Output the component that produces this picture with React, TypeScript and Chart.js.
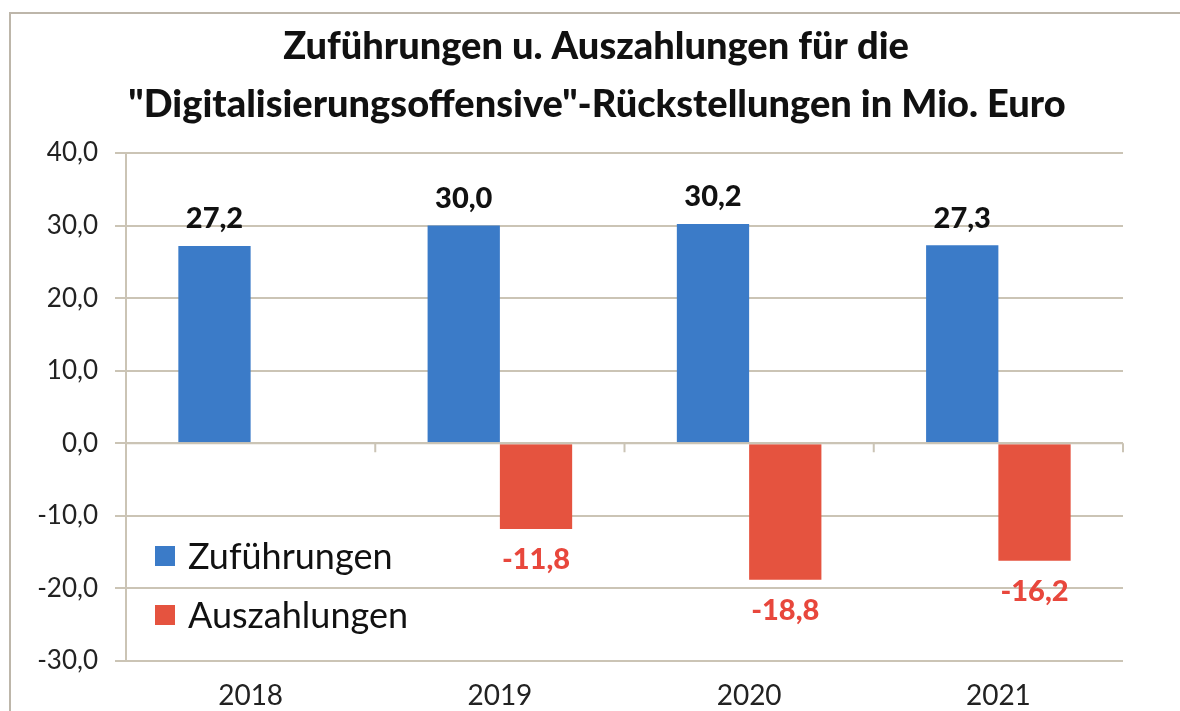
import React, { useEffect, useRef } from "react";
import { Chart, registerables } from "chart.js";

Chart.register(...registerables);

const categories = ["2018", "2019", "2020", "2021"];
const zufuehrungen = [27.2, 30.0, 30.2, 27.3];
const auszahlungen = [null, -11.8, -18.8, -16.2];
const seriesNames = ["Zuführungen", "Auszahlungen"];
const titleLines = [
  "Zuführungen u. Auszahlungen für die",
  "\"Digitalisierungsoffensive\"-Rückstellungen in Mio. Euro",
];

const BLUE = "#3b7bc8";
const RED = "#e5533f";
const GRID = "#cbc4b5";
const FONT = "Lato, 'Open Sans', sans-serif";

const fmt = (v: number) => v.toFixed(1).replace(".", ",");

const decorPlugin = {
  id: "decor",
  beforeDraw(chart: any) {
    const ctx = chart.ctx;
    ctx.save();
    ctx.fillStyle = "#ffffff";
    ctx.fillRect(0, 0, chart.width, chart.height);
    ctx.strokeStyle = "#bdb6aa";
    ctx.lineWidth = 2;
    ctx.strokeRect(10, 13, chart.width + 50, chart.height + 50);
    ctx.restore();
  },
  afterDatasetsDraw(chart: any) {
    const ctx = chart.ctx;
    const area = chart.chartArea;
    const y = chart.scales.y;
    ctx.save();
    // title
    ctx.fillStyle = "#111111";
    ctx.font = `900 38px ${FONT}`;
    ctx.textAlign = "center";
    ctx.textBaseline = "middle";
    ctx.fillText(titleLines[0], 596, 47);
    ctx.fillText(titleLines[1], 597, 105);

    // x axis line at zero with tick marks at category boundaries
    const y0 = y.getPixelForValue(0);
    ctx.strokeStyle = GRID;
    ctx.lineWidth = 2;
    ctx.beginPath();
    ctx.moveTo(area.left, y0);
    ctx.lineTo(area.right, y0);
    const n = categories.length;
    const w = (area.right - area.left) / n;
    for (let i = 1; i <= n; i++) {
      const px = area.left + w * i;
      ctx.moveTo(px, y0);
      ctx.lineTo(px, y0 + 9);
    }
    ctx.stroke();

    // data labels
    ctx.font = `900 29px ${FONT}`;
    chart.data.datasets.forEach((ds: any, di: number) => {
      const meta = chart.getDatasetMeta(di);
      meta.data.forEach((bar: any, i: number) => {
        const v = ds.data[i];
        if (v === null || v === undefined) return;
        if (v >= 0) {
          ctx.fillStyle = "#111111";
          ctx.fillText(fmt(v), bar.x, bar.y - 27);
        } else {
          ctx.fillStyle = "#e8473c";
          ctx.fillText(fmt(v), bar.x, bar.y + 31);
        }
      });
    });

    // legend inside plot area
    ctx.textAlign = "left";
    ctx.font = `36px ${FONT}`;
    const colors = [BLUE, RED];
    const rows = [556, 615];
    seriesNames.forEach((name, i) => {
      ctx.fillStyle = colors[i];
      ctx.fillRect(area.left + 29, rows[i] - 10, 20, 20);
      ctx.fillStyle = "#111111";
      ctx.fillText(name, area.left + 62, rows[i] + 1);
    });
    ctx.restore();
  },
};

export default function App() {
  const ref = useRef<HTMLCanvasElement | null>(null);
  useEffect(() => {
    if (!ref.current) return;
    const chart = new Chart(ref.current, {
      type: "bar",
      data: {
        labels: categories,
        datasets: [
          {
            label: seriesNames[0],
            data: zufuehrungen,
            backgroundColor: BLUE,
            categoryPercentage: 0.58,
            barPercentage: 1.0,
          },
          {
            label: seriesNames[1],
            data: auszahlungen as any,
            backgroundColor: RED,
            categoryPercentage: 0.58,
            barPercentage: 1.0,
          },
        ],
      },
      options: {
        responsive: false,
        animation: false,
        layout: { padding: { left: 0, right: 57, top: 153, bottom: 0 } },
        plugins: {
          legend: { display: false },
          title: { display: false },
          tooltip: { enabled: false },
        },
        scales: {
          x: {
            grid: { display: false, drawTicks: false },
            border: { display: false },
            ticks: {
              color: "#222222",
              font: { family: FONT, size: 28 },
              padding: 18,
            },
            afterFit(scale: any) {
              scale.height = 50;
            },
          },
          y: {
            min: -30,
            max: 40,
            grid: { color: GRID, lineWidth: 2, tickLength: 11 },
            border: { display: true, color: GRID, width: 2 },
            ticks: {
              stepSize: 10,
              color: "#222222",
              font: { family: FONT, size: 26 },
              padding: 17,
              callback: (v: any) => fmt(Number(v)),
            },
            afterFit(scale: any) {
              scale.width = 126;
            },
          },
        },
      },
      plugins: [decorPlugin],
    });
    return () => chart.destroy();
  }, []);
  return (
    <div style={{ position: "fixed", left: 0, top: 0, width: 1180, height: 711 }}>
      <canvas ref={ref} width={1180} height={711} style={{ display: "block" }} />
    </div>
  );
}
